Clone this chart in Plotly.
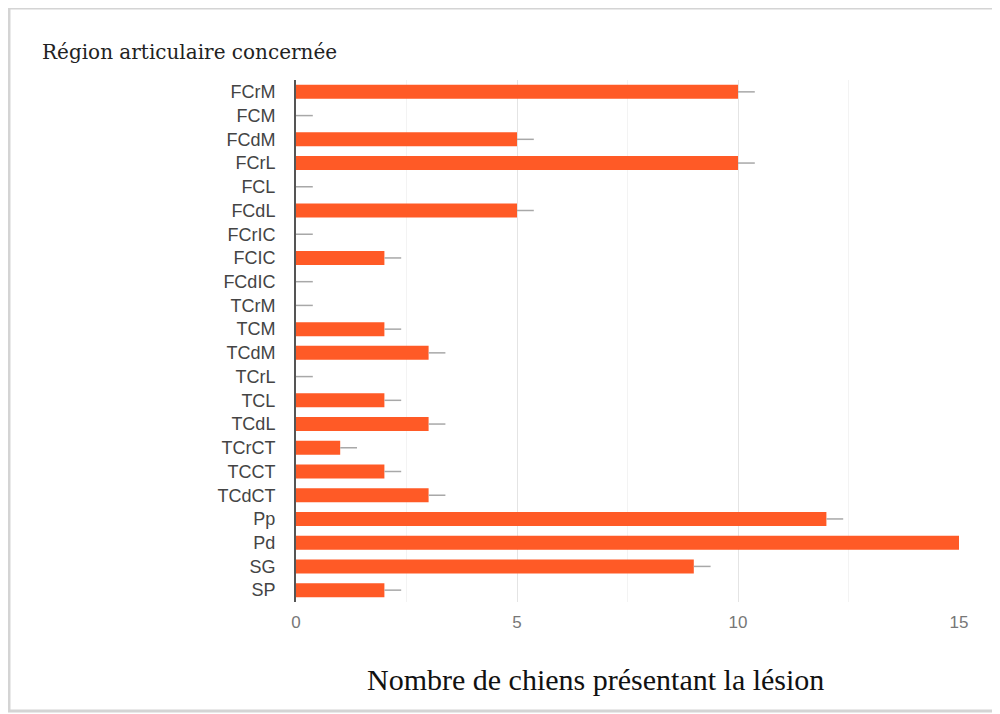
import plotly.graph_objects as go

regions = ['FCrM', 'FCM', 'FCdM', 'FCrL', 'FCL', 'FCdL', 'FCrIC', 'FCIC', 'FCdIC',
           'TCrM', 'TCM', 'TCdM', 'TCrL', 'TCL', 'TCdL', 'TCrCT', 'TCCT', 'TCdCT',
           'Pp', 'Pd', 'SG', 'SP']
chiens = [10, 0, 5, 10, 0, 5, 0, 2, 0, 0, 2, 3, 0, 2, 3, 1, 2, 3, 12, 15, 9, 2]
erreur = [0.38] * len(regions)

fig = go.Figure()
fig.add_trace(go.Bar(
    x=chiens, y=regions, orientation='h',
    marker=dict(color='#ff5a26', line=dict(width=0)),
    error_x=dict(type='data', array=erreur, symmetric=False, arrayminus=[0] * len(regions),
                 color='#a8a8a8', thickness=1.5, width=0),
))

# cadre autour du graphique
fig.add_shape(type='rect', xref='paper', yref='paper',
              x0=-0.4329, x1=1.0573, y0=-0.2088, y1=1.1379,
              line=dict(color='#d4d4d4', width=3), layer='below')

fig.add_annotation(text='Nombre de chiens présentant la lésion', xref='paper', yref='paper',
                   x=0.451, y=-0.149, showarrow=False, xanchor='center', yanchor='middle',
                   font=dict(family='Liberation Serif', size=30, color='#111'))

fig.update_layout(
    width=1000, height=714,
    margin=dict(l=288, r=49, t=72, b=120),
    paper_bgcolor='white', plot_bgcolor='white',
    title=dict(text='Région articulaire concernée', x=0.034, xanchor='left',
               y=0.938, yanchor='middle',
               font=dict(family='DejaVu Serif', size=20, color='#222')),
    bargap=0.41,
    showlegend=False,
)
fig.update_xaxes(range=[0, 15], tickvals=[0, 5, 10, 15], showgrid=True, gridcolor='#e4e4e4',
                 minor=dict(dtick=2.5, tick0=0, showgrid=True, gridcolor='#f3f3f3'),
                 zeroline=False, showline=False, ticklabelstandoff=8,
                 tickfont=dict(family='Liberation Sans', size=17, color='#777'))
fig.update_yaxes(autorange='reversed', showline=True, linecolor='#555', linewidth=2,
                 ticks='', ticklabelstandoff=15,
                 tickfont=dict(family='Liberation Sans', size=18, color='#444'))

fig.write_html('out.html')
